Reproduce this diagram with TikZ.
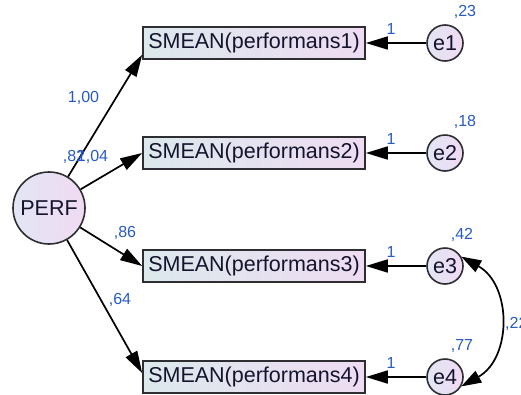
\documentclass[tikz,border=0pt]{standalone}
\usepackage{fontspec}
\setmainfont{Liberation Sans}
\usetikzlibrary{arrows.meta}
\definecolor{edgegray}{RGB}{45,45,50}
\definecolor{boxL}{RGB}{220,232,236}
\definecolor{boxR}{RGB}{238,220,242}
\definecolor{circL}{RGB}{226,230,244}
\definecolor{circR}{RGB}{240,218,242}
\definecolor{estblue}{RGB}{40,90,195}
\definecolor{inktext}{RGB}{20,20,45}
\begin{document}
\begin{tikzpicture}[x=1pt,y=-1pt,
  obs/.style={draw=edgegray,line width=1.6pt,left color=boxL,right color=boxR,
    minimum width=222pt,minimum height=32pt,inner sep=0pt,text=inktext,
    font=\fontsize{21.5}{24}\selectfont},
  latent/.style={circle,draw=edgegray,line width=1.6pt,left color=circL,right color=circR,
    minimum size=72pt,inner sep=0pt,text=inktext,font=\fontsize{21.5}{24}\selectfont},
  err/.style={circle,draw=edgegray,line width=1.6pt,left color=circL,right color=circR,
    minimum size=36pt,inner sep=0pt,text=inktext,font=\fontsize{21.5}{24}\selectfont},
  reg/.style={line width=1.7pt,draw=black,-{Triangle[length=22pt,width=13pt]}},
  cov/.style={line width=1.7pt,draw=black,{Triangle[length=20pt,width=13pt]}-{Triangle[length=20pt,width=13pt]}},
  est/.style={text=estblue,font=\fontsize{16}{18}\selectfont,inner sep=0pt}
]
\useasboundingbox (0,0) rectangle (521,394);

% latent factor
\node[latent] (perf) at (49,208) {PERF};

% observed indicators
\node[obs] (box1) at (254,43)  {SMEAN(performans1)};
\node[obs] (box2) at (254,153) {SMEAN(performans2)};
\node[obs] (box3) at (254,266) {SMEAN(performans3)};
\node[obs] (box4) at (254,377) {SMEAN(performans4)};

% error terms
\node[err] (e1) at (445,43)  {e1};
\node[err] (e2) at (445,153) {e2};
\node[err] (e3) at (445,266) {e3};
\node[err] (e4) at (445,377) {e4};

% factor loadings
\draw[reg] (perf) -- (box1.186);
\draw[reg] (perf) -- (box2.west);
\draw[reg] (perf) -- (box3.west);
\draw[reg] (perf) -- (box4.178);

% error paths
\draw[reg] (e1) -- (box1);
\draw[reg] (e2) -- (box2);
\draw[reg] (e3) -- (box3);
\draw[reg] (e4) -- (box4);

% error covariance
\draw[cov] (e3.30) .. controls (512,285) and (512,358) .. (e4.-30);

% estimates
\node[est] (l1) at (83.5,98) {1,00};
\node[est] (vp) at (74,157) {,82};
\node[est] (l2) at (92.5,157) {1,04};
\node[est] (l3) at (125,233) {,86};
\node[est] (l4) at (120,300) {,64};

\node[est] (f1) at (391,29)  {1};
\node[est] (f2) at (391,139) {1};
\node[est] (f3) at (391,252) {1};
\node[est] (f4) at (391,363) {1};

\node[est] (v1) at (465,12)  {,23};
\node[est] (v2) at (465,122) {,18};
\node[est] (v3) at (462,235) {,42};
\node[est] (v4) at (462,346) {,77};
\node[est,anchor=west] (c34) at (505,324) {,22};
\end{tikzpicture}
\end{document}
